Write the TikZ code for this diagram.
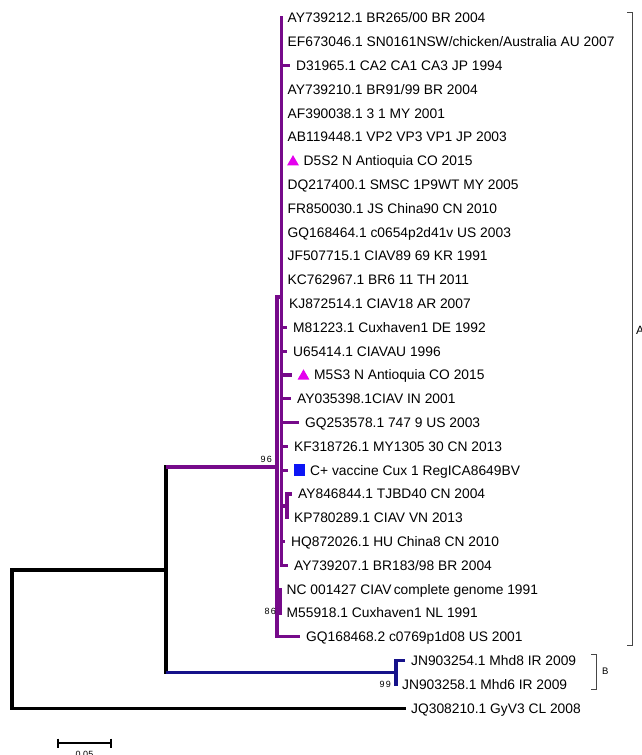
\documentclass[tikz,border=0pt]{standalone}
\usepackage{fontspec}
\setmainfont{Liberation Sans}
\usetikzlibrary{positioning, shapes.geometric}
\definecolor{cladeA}{RGB}{118,10,138}
\definecolor{cladeB}{RGB}{22,18,138}
\definecolor{marker}{RGB}{228,0,238}
\definecolor{vaccine}{RGB}{12,22,245}
\definecolor{bracket}{RGB}{70,70,70}

\begin{document}
\begin{tikzpicture}[x=1pt, y=1pt,
    branch/.style={line width=3.2pt},
    stem/.style={line width=3.2pt, line cap=rect},
    taxon/.style={inner sep=0pt, text height=9.9pt, text depth=0pt, font=\fontsize{13.8}{16}\selectfont},
    boot/.style={inner sep=0pt, font=\fontsize{9}{10}\selectfont},
    tri/.style={regular polygon, regular polygon sides=3, fill=marker, inner sep=0pt, minimum size=13.8pt},
    sq/.style={fill=vaccine, inner sep=0pt, minimum size=11.5pt},
    clade/.style={line width=0.9pt, draw=bracket, line cap=rect}]
    \useasboundingbox (0,-755) rectangle (641,0);

    % internal nodes
    \coordinate (R) at (12,-639.1);
    \coordinate (Q) at (166,-570);
    \coordinate (P) at (277,-467);
    \coordinate (X) at (281.5,-297);
    \coordinate (S) at (287,-505.9);
    \coordinate (N) at (280.5,-601.1);
    \coordinate (Bn) at (396,-672.5);

    % tips
    \coordinate (t1) at (281.5,-18);
    \coordinate (t2) at (281.5,-41.8);
    \coordinate (t3) at (290,-65.6);
    \coordinate (t4) at (281.5,-89.4);
    \coordinate (t5) at (281.5,-113.2);
    \coordinate (t6) at (281.5,-137);
    \coordinate (t7) at (281.5,-160.8);
    \coordinate (t8) at (281.5,-184.6);
    \coordinate (t9) at (281.5,-208.4);
    \coordinate (t10) at (281.5,-232.2);
    \coordinate (t11) at (281.5,-256);
    \coordinate (t12) at (281.5,-279.8);
    \coordinate (t13) at (283,-303.6);
    \coordinate (t14) at (287,-327.4);
    \coordinate (t15) at (287,-351.2);
    \coordinate (t16) at (292,-375);
    \coordinate (t17) at (291,-398.8);
    \coordinate (t18) at (299,-422.6);
    \coordinate (t19) at (288,-446.4);
    \coordinate (t20) at (288,-470.2);
    \coordinate (t21) at (292,-494);
    \coordinate (t22) at (288,-517.8);
    \coordinate (t23) at (285,-541.6);
    \coordinate (t24) at (288,-565.4);
    \coordinate (t25) at (280.5,-589.2);
    \coordinate (t26) at (280.5,-613);
    \coordinate (t27) at (300,-636.8);
    \coordinate (t28) at (405,-660.6);
    \coordinate (t29) at (396,-684.4);
    \coordinate (t30) at (406,-708.2);

    % backbone
    \draw[stem] (R |- Q) -- (R |- t30);
    \draw[branch] (R |- Q) -- (Q);
    \draw[branch] (R |- t30) -- (t30);
    \draw[stem] (Q |- P) -- (Q |- Bn);
    \draw[branch, cladeA] (Q |- P) -- (P);
    \draw[branch, cladeB] (Q |- Bn) -- (Bn);

    % clade A
    \draw[stem, cladeA] (P |- X) -- (P |- t27);
    \draw[branch, cladeA] (P |- X) -- (X);
    \draw[branch, cladeA] (P |- N) -- (N);
    \draw[branch, cladeA] (P |- t27) -- (t27);
    \draw[stem, cladeA] (X |- t1) -- (X |- t24);
    \foreach \t in {t3,t13,t14,t15,t16,t17,t18,t19,t20,t23,t24}
        \draw[branch, cladeA] (X |- \t) -- (\t);
    \draw[branch, cladeA] (X |- S) -- (S);
    \draw[stem, cladeA] (S |- t21) -- (S |- t22);
    \draw[branch, cladeA] (S |- t21) -- (t21);
    \draw[branch, cladeA] (S |- t22) -- (t22);
    \draw[stem, cladeA] (N |- t25) -- (N |- t26);

    % clade B
    \draw[stem, cladeB] (Bn |- t28) -- (Bn |- t29);
    \draw[branch, cladeB] (Bn |- t28) -- (t28);

    % taxa
    \node[taxon, right=6pt of t1] (l1) {AY739212.1 BR265/00 BR 2004};
    \node[taxon, right=6pt of t2] (l2) {EF673046.1 SN0161NSW/chicken/Australia AU 2007};
    \node[taxon, right=6pt of t3] (l3) {D31965.1 CA2 CA1 CA3 JP 1994};
    \node[taxon, right=6pt of t4] (l4) {AY739210.1 BR91/99 BR 2004};
    \node[taxon, right=6pt of t5] (l5) {AF390038.1 3 1 MY 2001};
    \node[taxon, right=6pt of t6] (l6) {AB119448.1 VP2 VP3 VP1 JP 2003};
    \node[tri] (m7) at ([xshift=11.5pt, yshift=-1.2pt]t7) {};
    \node[taxon, right=22pt of t7] (l7) {D5S2 N Antioquia CO 2015};
    \node[taxon, right=6pt of t8] (l8) {DQ217400.1 SMSC 1P9WT MY 2005};
    \node[taxon, right=6pt of t9] (l9) {FR850030.1 JS China90 CN 2010};
    \node[taxon, right=6pt of t10] (l10) {GQ168464.1 c0654p2d41v US 2003};
    \node[taxon, right=6pt of t11] (l11) {JF507715.1 CIAV89 69 KR 1991};
    \node[taxon, right=6pt of t12] (l12) {KC762967.1 BR6 11 TH 2011};
    \node[taxon, right=6pt of t13] (l13) {KJ872514.1 CIAV18 AR 2007};
    \node[taxon, right=6pt of t14] (l14) {M81223.1 Cuxhaven1 DE 1992};
    \node[taxon, right=6pt of t15] (l15) {U65414.1 CIAVAU 1996};
    \node[tri] (m16) at ([xshift=11.5pt, yshift=-1.2pt]t16) {};
    \node[taxon, right=22pt of t16] (l16) {M5S3 N Antioquia CO 2015};
    \node[taxon, right=6pt of t17] (l17) {AY035398.1CIAV IN 2001};
    \node[taxon, right=6pt of t18] (l18) {GQ253578.1 747 9 US 2003};
    \node[taxon, right=6pt of t19] (l19) {KF318726.1 MY1305 30 CN 2013};
    \node[sq] (m20) at ([xshift=11.5pt]t20) {};
    \node[taxon, right=22pt of t20] (l20) {C+ vaccine Cux 1 RegICA8649BV};
    \node[taxon, right=6pt of t21] (l21) {AY846844.1 TJBD40 CN 2004};
    \node[taxon, right=6pt of t22] (l22) {KP780289.1 CIAV VN 2013};
    \node[taxon, right=6pt of t23] (l23) {HQ872026.1 HU China8 CN 2010};
    \node[taxon, right=6pt of t24] (l24) {AY739207.1 BR183/98 BR 2004};
    \node[taxon, right=6pt of t25] (l25) {NC 001427 CIAV\,complete genome 1991};
    \node[taxon, right=6pt of t26] (l26) {M55918.1 Cuxhaven1 NL 1991};
    \node[taxon, right=6pt of t27] (l27) {GQ168468.2 c0769p1d08 US 2001};
    \node[taxon, right=6pt of t28] (l28) {JN903254.1 Mhd8 IR 2009};
    \node[taxon, right=6pt of t29] (l29) {JN903258.1 Mhd6 IR 2009};
    \node[taxon, right=5pt of t30] (l30) {JQ308210.1 GyV3 CL 2008};

    % bootstrap values
    \node[boot, anchor=east] (bs96) at ([xshift=-5pt, yshift=8pt]P) {9\kern1.2pt6};
    \node[boot, anchor=east] (bs86) at ([xshift=-4.5pt, yshift=-10pt]N) {8\kern1.2pt6};
    \node[boot, anchor=east] (bs99) at ([xshift=-5pt, yshift=-11.5pt]Bn) {9\kern1.2pt9};

    % clade brackets
    \coordinate (Atop) at (632,-12);
    \coordinate (Abot) at (632,-645);
    \draw[clade] ([xshift=-5pt]Atop) -- (Atop) -- (Abot) -- ([xshift=-5pt]Abot);
    \node[anchor=west, inner sep=0pt, font=\fontsize{12}{13}\selectfont] (labA) at (636,-330) {A};
    \coordinate (Btop) at (596,-654);
    \coordinate (Bbot) at (596,-689);
    \draw[clade] ([xshift=-5pt]Btop) -- (Btop) -- (Bbot) -- ([xshift=-5pt]Bbot);
    \node[anchor=west, inner sep=0pt, font=\fontsize{9.5}{10}\selectfont] (labB) at (602,-671) {B};

    % scale bar
    \coordinate (s0) at (58,-743);
    \coordinate (s1) at (111,-743);
    \draw[line width=2.6pt] (s0) -- (s1);
    \draw[line width=2.2pt] ([yshift=4.5pt]s0) -- ([yshift=-4.5pt]s0);
    \draw[line width=2.2pt] ([yshift=4.5pt]s1) -- ([yshift=-4.5pt]s1);
    \node[anchor=north, inner sep=0pt, font=\fontsize{9}{10}\selectfont] (sbar) at (84.5,-751.5) {0.05};
\end{tikzpicture}
\end{document}
